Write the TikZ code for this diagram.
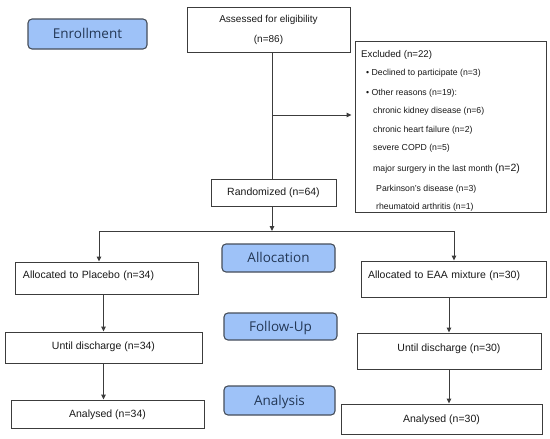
\documentclass[tikz,border=0pt]{standalone}
\usepackage{fontspec}
\setmainfont{Liberation Sans}
\newfontfamily\phasefont{Open Sans}
\usetikzlibrary{arrows.meta,calc}
\definecolor{phasefill}{RGB}{158,194,248}
\definecolor{phasedraw}{RGB}{70,78,90}
\definecolor{phasetext}{RGB}{35,55,85}
\definecolor{boxdraw}{RGB}{60,60,60}
\definecolor{ink}{RGB}{25,25,25}
\begin{document}
\begin{tikzpicture}[x=1pt,y=-1pt,
  sz/.style n args={2}{minimum width=#1pt, minimum height=#2pt},
  phase/.style={draw=phasedraw, fill=phasefill, rounded corners=4pt, line width=1.1pt, inner sep=0pt,
    font=\phasefont\fontsize{13.5}{14}\selectfont, text=phasetext, text height=10pt, text depth=1pt},
  box/.style={draw=boxdraw, line width=0.9pt, inner sep=0pt, font=\fontsize{10.5}{12}\selectfont, text=ink},
  tshift/.style={text height=7.5pt, text depth=#1},
  lbl/.style={inner sep=0pt, anchor=base west, text=ink, font=\fontsize{8.7}{10}\selectfont},
  conn/.style={draw=boxdraw, line width=1pt},
  arr/.style={conn, -{Triangle[length=5pt,width=4.5pt]}}
]
\useasboundingbox[fill=white] (0,0) rectangle (550,439);

% phase labels
\node[phase, sz={119}{30}] (enroll) at (87.5,34) {Enrollment};
\node[phase, sz={113}{28}] (alloc) at (278.5,258) {Allocation};
\node[phase, sz={113}{27}] (follow) at (280.5,326.5) {Follow-Up};
\node[phase, sz={111}{29}] (analysis) at (279.5,400.5) {Analysis};

% flow boxes
\node[box, sz={163}{45}, align=center, font=\fontsize{10}{20}\selectfont] (assess) at (268.5,29.5)
  {Assessed for eligibility\\(n=86)};
\node[box, sz={191}{171}] (excl) at (450.5,126.5) {};
\node[box, sz={125}{27}] (rand) at (273.5,192.5) {Randomized (n=64)};
\node[box, sz={183}{32}, text width=167pt, align=left, tshift=6pt] (placebo) at (106.5,278)
  {Allocated to Placebo (n=34)};
\node[box, sz={185}{36}, text width=171pt, align=left, tshift=8pt] (eaa) at (453.5,279)
  {Allocated to EAA mixture (n=30)};
\node[box, sz={197}{31}, tshift=3pt] (ud1) at (103.5,347.5) {Until discharge (n=34)};
\node[box, sz={184}{36}, tshift=6pt] (ud2) at (449,351) {Until discharge (n=30)};
\node[box, sz={193}{28}, tshift=1pt] (an1) at (107.5,414) {Analysed (n=34)};
\node[box, sz={201}{30}, tshift=1pt] (an2) at (441.5,419) {Analysed (n=30)};

% excluded list
\node[lbl, font=\fontsize{9.7}{11}\selectfont] (ex0) at (361,57.5) {Excluded (n=22)};
\node[lbl] (ex1) at (366,75) {\textbullet\ Declined to participate (n=3)};
\node[lbl] (ex2) at (366,95) {\textbullet\ Other reasons (n=19):};
\node[lbl] (ex3) at (373,113) {chronic kidney disease (n=6)};
\node[lbl] (ex4) at (373,132) {chronic heart failure (n=2)};
\node[lbl] (ex5) at (373,150) {severe COPD (n=5)};
\node[lbl] (ex6) at (373,171) {major surgery in the last month {\fontsize{10.5}{12}\selectfont(n=2)}};
\node[lbl] (ex7) at (376,191) {Parkinson's disease (n=3)};
\node[lbl] (ex8) at (376,209) {rheumatoid arthritis (n=1)};

% connectors
\coordinate (trunk) at (272,0);
\coordinate (exc) at (272,115);
\coordinate (junc) at (272,231);
\coordinate (jl) at (99,231);
\coordinate (jr) at (454,231);
\draw[conn] (assess.south -| trunk) -- (rand.north -| trunk);
\draw[arr, shorten >=3pt] (exc) -- (exc -| excl.west);
\draw[arr] (rand.south -| trunk) -- (junc);
\draw[conn] (jl) -- (jr);
\draw[arr] (jl) -- (jl |- placebo.north);
\draw[arr] (jr) -- (jr |- eaa.north);
\draw[arr] (placebo.south -| ud1.north) -- (ud1.north);
\draw[arr] (ud1.south) -- (ud1.south |- an1.north);
\draw[arr] (eaa.south -| ud2.north) -- (ud2.north);
\draw[arr] (ud2.south) -- (ud2.south |- an2.north);
\end{tikzpicture}
\end{document}
